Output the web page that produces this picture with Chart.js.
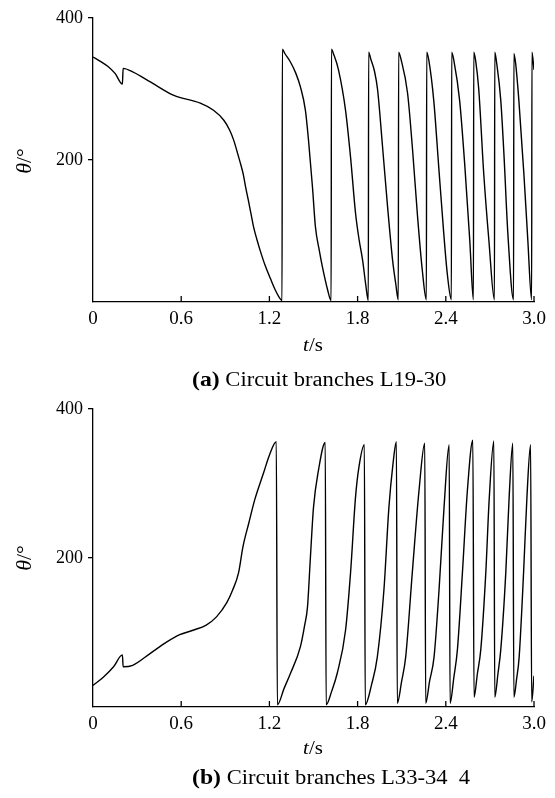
<!DOCTYPE html>
<html>
<head>
<meta charset="utf-8">
<title>Phase angle of circuit branches</title>
<script src="https://cdn.jsdelivr.net/npm/chart.js@4.4.1/dist/chart.umd.min.js"></script>
<style>
  html, body { margin: 0; padding: 0; background: #fff; }
  #wrap { position: relative; width: 555px; height: 798px; overflow: hidden;
          font-family: "Liberation Serif", "Times New Roman", serif; color: #000; }
  #wrap canvas { position: absolute; left: 0; }
  .lbl { position: absolute; white-space: nowrap; line-height: 1; }
  .ytitle { font-size: 22px; transform: translate(-50%, -50%) rotate(-90deg); }
  .xtitle { font-size: 19px; transform: translate(-50%, -50%) scaleX(1.1); }
  .cap { font-size: 20px; transform-origin: left center; transform: translateY(-50%) scaleX(1.13); }
  .cap b { font-size: 21px; }
  i { font-style: italic; }
</style>
</head>
<body>
<div id="wrap">
  <canvas id="chartA" width="555" height="340" style="top:0px"></canvas>
  <canvas id="chartB" width="555" height="354" style="top:391px"></canvas>

  <div class="lbl ytitle" style="left:24px; top:161px"><i>θ</i>/°</div>
  <div class="lbl xtitle" style="left:313px; top:344px"><i>t</i>/s</div>
  <div class="lbl cap" style="left:192px; top:379px"><b>(a)</b> Circuit branches L19-30</div>

  <div class="lbl ytitle" style="left:24px; top:558px"><i>θ</i>/°</div>
  <div class="lbl xtitle" style="left:313px; top:747px"><i>t</i>/s</div>
  <div class="lbl cap" style="left:192px; top:777px"><b>(b)</b> Circuit branches L33-34&nbsp;&nbsp;4</div>
</div>

<script>
// Axis ticks shared by both panels
const xTicks = [0, 0.6, 1.2, 1.8, 2.4, 3.0];
const xTickLabels = ['0', '0.6', '1.2', '1.8', '2.4', '3.0'];
const yTicks = [0, 200, 400];
const yTickLabels = ['', '200', '400'];

// Branch L19-30: [t (s), θ (°)]
const seriesA = [
  [0, 345], [0.05, 339], [0.1, 332], [0.15, 322], [0.2, 307], [0.205, 329], [0.27, 324],
  [0.39, 310], [0.55, 291], [0.73, 280], [0.82, 270], [0.89, 256], [0.93, 242], [0.957, 228],
  [0.98, 212], [1.002, 196], [1.022, 180], [1.04, 160], [1.057, 143], [1.075, 124], [1.091, 107],
  [1.115, 88], [1.138, 72], [1.17, 52], [1.207, 33], [1.24, 17], [1.275, 4], [1.286, 2],
  [1.288, 356], [1.305, 350], [1.343, 338], [1.38, 322], [1.411, 303], [1.445, 270], [1.466, 228],
  [1.493, 162], [1.513, 106], [1.54, 72], [1.561, 49], [1.595, 18], [1.62, 2],
  [1.622, 356], [1.637, 349], [1.67, 327], [1.718, 270], [1.752, 204], [1.786, 125], [1.81, 88],
  [1.834, 59], [1.855, 25], [1.873, 2],
  [1.875, 352], [1.89, 342], [1.915, 325], [1.936, 299], [1.97, 218], [2.004, 134], [2.038, 59],
  [2.06, 25], [2.077, 3],
  [2.079, 352], [2.095, 342], [2.14, 294], [2.174, 214], [2.208, 120], [2.24, 45], [2.268, 3],
  [2.27, 352], [2.285, 340], [2.318, 284], [2.352, 190], [2.386, 97], [2.41, 40], [2.438, 3],
  [2.44, 352], [2.455, 340], [2.494, 284], [2.53, 190], [2.563, 87], [2.588, 3],
  [2.59, 352], [2.603, 340], [2.624, 300], [2.658, 181], [2.693, 87], [2.731, 3],
  [2.733, 352], [2.745, 338], [2.774, 284], [2.795, 210], [2.822, 97], [2.861, 3],
  [2.863, 350], [2.875, 336], [2.897, 284], [2.931, 181], [2.958, 87], [2.984, 3],
  [2.986, 352], [3.0, 327]
];

// Branch L33-34: [t (s), θ (°)]
const seriesB = [
  [0, 29], [0.07, 40], [0.14, 54], [0.2, 70], [0.205, 54], [0.27, 56], [0.39, 72], [0.5, 87],
  [0.59, 97], [0.68, 103], [0.77, 110], [0.84, 121], [0.91, 140], [0.95, 157], [0.99, 180],
  [1.02, 215], [1.06, 247], [1.1, 278], [1.16, 314], [1.2, 338], [1.247, 356],
  [1.254, 3], [1.3, 25], [1.343, 45], [1.411, 81], [1.44, 110], [1.459, 134], [1.479, 201],
  [1.5, 268], [1.534, 318], [1.58, 355],
  [1.586, 3], [1.625, 22], [1.661, 45], [1.718, 103], [1.752, 180], [1.786, 282], [1.809, 322],
  [1.846, 352],
  [1.852, 3], [1.895, 30], [1.934, 67], [1.979, 157], [2.013, 268], [2.04, 325], [2.064, 356],
  [2.07, 5], [2.1, 35], [2.127, 67], [2.172, 180], [2.218, 291], [2.257, 354],
  [2.263, 5], [2.29, 35], [2.32, 67], [2.354, 157], [2.388, 268], [2.423, 352],
  [2.429, 5], [2.455, 40], [2.479, 77], [2.513, 180], [2.547, 291], [2.584, 358],
  [2.592, 13], [2.615, 45], [2.638, 77], [2.672, 180], [2.695, 278], [2.727, 357],
  [2.733, 13], [2.755, 45], [2.774, 77], [2.808, 180], [2.831, 282], [2.856, 354],
  [2.863, 13], [2.882, 38], [2.899, 67], [2.929, 180], [2.952, 282], [2.977, 352],
  [2.984, 7], [3.0, 42]
];

const serif = 'Liberation Serif, Times New Roman, serif';
const axisColor = '#000';
const axisWidth = 1.3;

// Short tick marks pointing up into the plot along the time axis
const innerTicks = {
  id: 'innerTicks',
  afterDatasetsDraw(chart) {
    const { ctx, chartArea } = chart;
    const xs = chart.scales.x;
    ctx.save();
    ctx.strokeStyle = axisColor;
    ctx.lineWidth = axisWidth;
    xs.ticks.forEach(t => {
      if (t.value === 0) return;
      const px = xs.getPixelForValue(t.value);
      ctx.beginPath();
      ctx.moveTo(px, chartArea.bottom);
      ctx.lineTo(px, chartArea.bottom - 6);
      ctx.stroke();
    });
    ctx.restore();
  }
};

function makePanel(id, series) {
  return new Chart(document.getElementById(id), {
    type: 'line',
    data: {
      datasets: [{
        data: series.map(([t, v]) => ({ x: t, y: v })),
        borderColor: '#000',
        borderWidth: 1.4,
        pointRadius: 0,
        fill: false,
        cubicInterpolationMode: 'monotone'
      }]
    },
    options: {
      responsive: false,
      animation: false,
      events: [],
      layout: { padding: { left: 0, right: 21, top: 18, bottom: 0 } },
      plugins: { legend: { display: false }, tooltip: { enabled: false } },
      scales: {
        x: {
          type: 'linear', min: 0, max: 3,
          afterBuildTicks: s => { s.ticks = xTicks.map(v => ({ value: v })); },
          afterFit: s => { s.height = 38; },
          grid: { display: false, drawTicks: false },
          border: { display: true, color: axisColor, width: axisWidth },
          ticks: {
            autoSkip: false, maxRotation: 0, padding: 6, color: '#000',
            font: { family: serif, size: 19 },
            callback: (v, i) => xTickLabels[i]
          }
        },
        y: {
          type: 'linear', min: 0, max: 400,
          afterBuildTicks: s => { s.ticks = yTicks.map(v => ({ value: v })); },
          afterFit: s => { s.width = 93; },
          grid: {
            drawOnChartArea: false, drawTicks: true, tickLength: 5, lineWidth: axisWidth,
            color: c => (c.tick && c.tick.value === 0) ? 'rgba(0,0,0,0)' : axisColor
          },
          border: { display: true, color: axisColor, width: axisWidth },
          ticks: {
            padding: 5, color: '#000',
            font: { family: serif, size: 18 },
            callback: (v, i) => yTickLabels[i]
          }
        }
      }
    },
    plugins: [innerTicks]
  });
}

makePanel('chartA', seriesA);
makePanel('chartB', seriesB);
</script>
</body>
</html>
